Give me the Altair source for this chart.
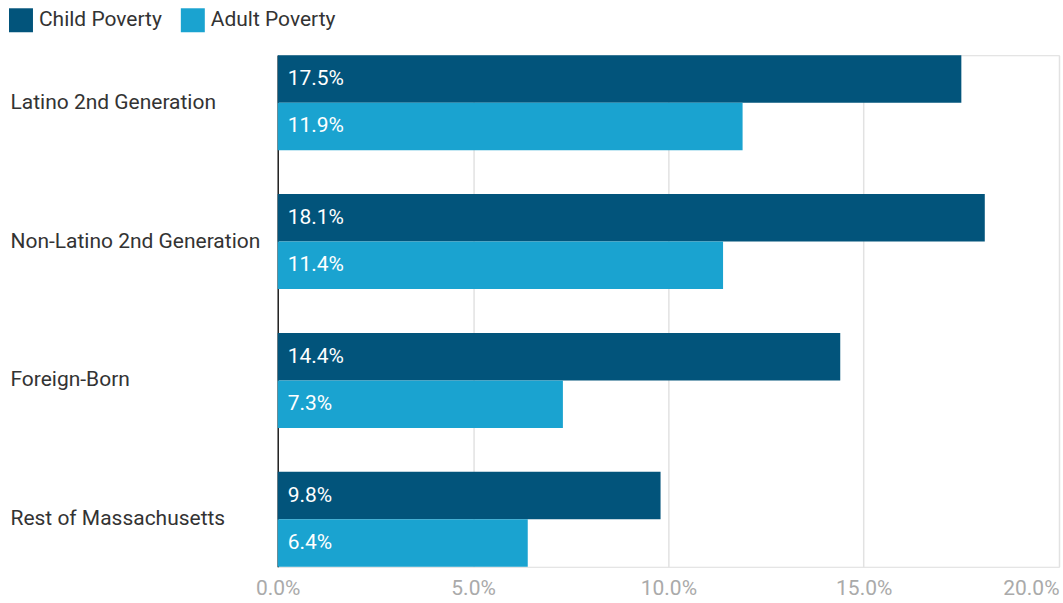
import altair as alt
import pandas as pd

categories = ["Latino 2nd Generation", "Non-Latino 2nd Generation", "Foreign-Born", "Rest of Massachusetts"]
series = ["Child Poverty", "Adult Poverty"]
child_values = [0.175, 0.181, 0.144, 0.098]
adult_values = [0.119, 0.114, 0.073, 0.064]
colors = ["#02547b", "#1aa3d0"]
x_ticks = [0.0, 0.05, 0.10, 0.15, 0.20]

rows = []
for c, cv, av in zip(categories, child_values, adult_values):
    rows.append({"group": c, "series": series[0], "value": cv})
    rows.append({"group": c, "series": series[1], "value": av})
df = pd.DataFrame(rows)

FONT = "Roboto"
FS = 21

y_enc = alt.Y(
    "group:N",
    sort=categories,
    scale=alt.Scale(paddingInner=0.3165, paddingOuter=0),
    axis=alt.Axis(
        title=None,
        labelAlign="left",
        labelPadding=268,
        ticks=False,
        tickSize=0,
        labelFontSize=FS,
        labelColor="#333333",
        labelFont=FONT,
        domainColor="#222222",
        domainWidth=1.5,
        grid=False,
        labelLimit=400,
    ),
)
yoff_enc = alt.YOffset("series:N", sort=series, scale=alt.Scale(domain=series, paddingInner=0, paddingOuter=0))

x_enc = alt.X(
    "value:Q",
    scale=alt.Scale(domain=[0, 0.2], nice=False),
    axis=alt.Axis(
        title=None,
        format=".1%",
        values=x_ticks,
        domain=False,
        ticks=False,
        labelFontSize=FS,
        labelColor="#aaaaaa",
        labelFont=FONT,
        labelPadding=11,
        gridColor="#e2e2e2",
        gridWidth=1.5,
        labelAlign=alt.expr("datum.value >= 0.2 ? 'right' : 'center'"),
    ),
)

bars = alt.Chart(df).mark_bar().encode(
    y=y_enc,
    yOffset=yoff_enc,
    x=x_enc,
    color=alt.Color(
        "series:N",
        sort=series,
        scale=alt.Scale(domain=series, range=colors),
        legend=alt.Legend(
            title=None,
            orient="none",
            legendX=-269,
            legendY=-47,
            direction="horizontal",
            symbolType="square",
            symbolSize=576,
            symbolStrokeWidth=0,
            symbolOpacity=1,
            labelFontSize=FS,
            labelColor="#333333",
            labelFont=FONT,
            columnPadding=18,
            labelOffset=6,
        ),
    ),
)

labels = alt.Chart(df).mark_text(
    align="left", baseline="middle", dx=10, color="white", fontSize=FS, font=FONT
).encode(
    y=alt.Y("group:N", sort=categories),
    yOffset=alt.YOffset("series:N", sort=series),
    x=alt.datum(0),
    text=alt.Text("value:Q", format=".1%"),
)

chart = (
    alt.layer(bars, labels)
    .properties(width=782, height=512, padding={"left": 9, "top": 8, "right": 4, "bottom": 5})
    .configure_view(stroke=None)
    .configure(font=FONT)
)

chart.save("out.html", embed_options={"renderer": "svg", "actions": False})
